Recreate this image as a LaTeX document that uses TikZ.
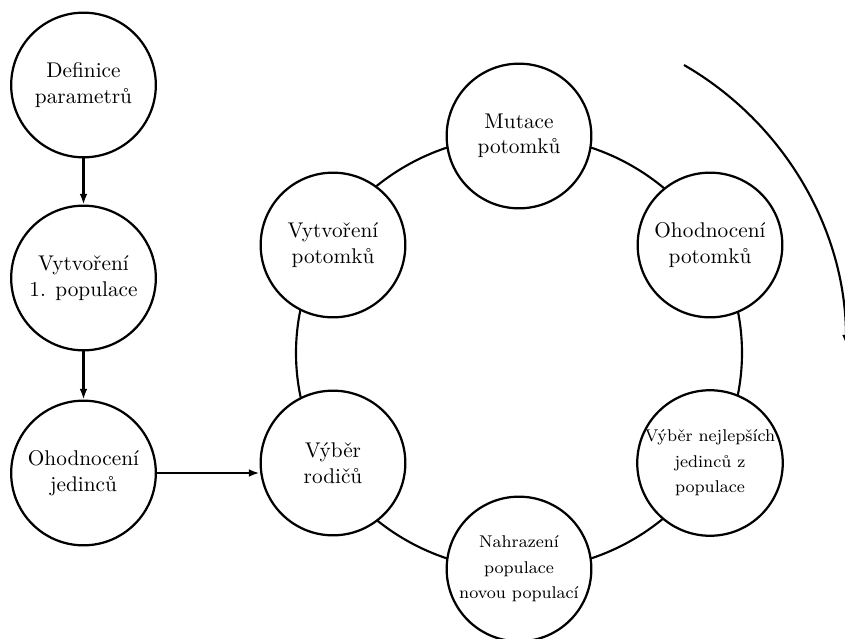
\documentclass[tikz,border=0pt]{standalone}
\usepackage{fontspec}
\usetikzlibrary{arrows.meta}
\begin{document}
\begin{tikzpicture}[x=0.47pt,y=0.47pt,
  stage/.style={circle,draw,line width=1.05pt,fill=white,minimum size=68pt,inner sep=0pt,align=center,font=\normalsize},
  smallstage/.style={stage,font=\footnotesize},
  arr/.style={line width=1pt,-{Latex[length=5pt,width=3.6pt]}},
  ring/.style={line width=1pt}]
\useasboundingbox (0,0) rectangle (845,-639);
% ring behind the cycle
\coordinate (ringc) at (519,-353);
\draw[ring] (ringc) ellipse [x radius=223, y radius=217];
% left column
\node[stage] (def) at (83.5,-85) {Definice\\parametrů};
\node[stage] (vyt1) at (83.5,-278) {Vytvoření\\1. populace};
\node[stage] (ohj) at (83.5,-473) {Ohodnocení\\jedinců};
% cycle
\node[stage] (mut) at (519,-136) {Mutace\\potomků};
\node[stage] (vytp) at (333,-245) {Vytvoření\\potomků};
\node[stage] (ohp) at (710,-245) {Ohodnocení\\potomků};
\node[stage] (vyr) at (333,-463) {Výběr\\rodičů};
\node[smallstage] (vyn) at (710,-463) {Výběr nejlepších\\[2.5pt]jedinců z\\[2.5pt]populace};
\node[smallstage] (nah) at (519,-569) {Nahrazení\\[2.5pt]populace\\[2.5pt]novou populací};
% connectors
\draw[arr] (def) -- (vyt1);
\draw[arr] (vyt1) -- (ohj);
\draw[arr] (ohj.east) -- (ohj.east -| vyr.west);
% outer arc
\coordinate (arcstart) at (684,-65);
\draw[arr] (arcstart) arc[start angle=60, end angle=0, radius=324];
\end{tikzpicture}
\end{document}
